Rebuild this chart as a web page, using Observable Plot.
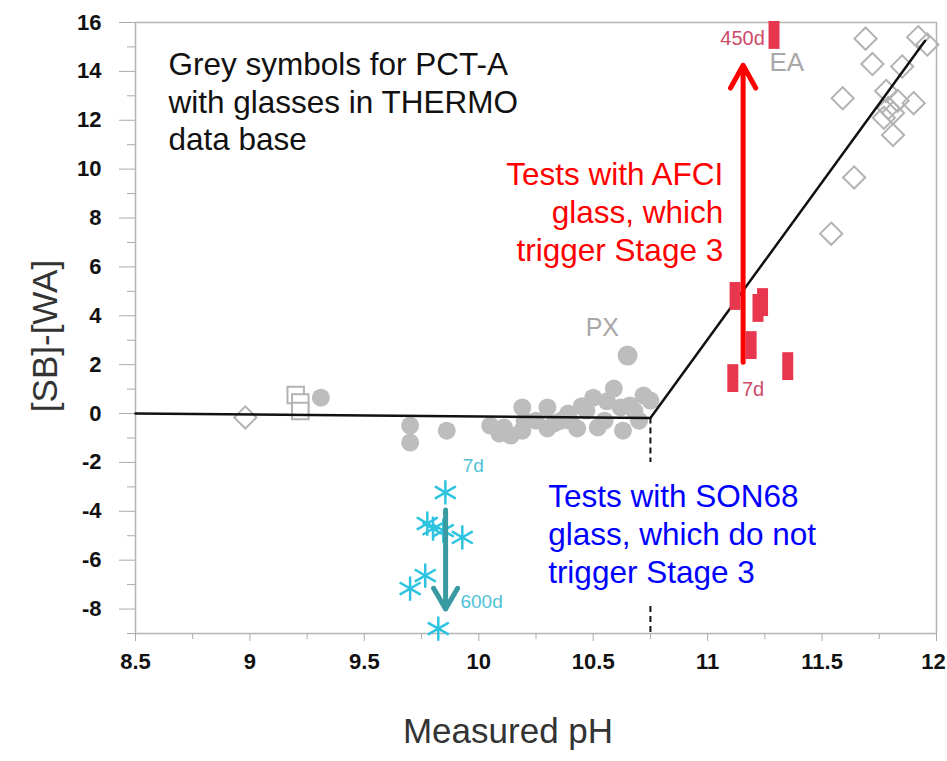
<!DOCTYPE html>
<html><head><meta charset="utf-8">
<script src="https://cdn.jsdelivr.net/npm/d3@7"></script>
<script src="https://cdn.jsdelivr.net/npm/@observablehq/plot@0.6"></script>
<style>
body{margin:0;background:#fff}
svg{font-family:"Liberation Sans",Arial,Helvetica,sans-serif}
</style>
</head><body><div id="chart"></div>
<script>
// ---- Data ----
// Model line (black)
const modelPH   = [8.5, 10.75, 11.95];
const modelSBWA = [0, -0.18, 15.25];
// Grey filled circles (PCT-A, THERMO database, PX)
const circPH   = [9.31, 9.70, 9.70, 9.86, 10.05, 10.09, 10.11, 10.14, 10.19, 10.19, 10.20, 10.25, 10.30, 10.30, 10.33, 10.36, 10.39, 10.40, 10.43, 10.45, 10.47, 10.50, 10.52, 10.55, 10.56, 10.59, 10.62, 10.63, 10.66, 10.68, 10.70, 10.72, 10.75];
const circSBWA = [0.65, -0.49, -1.19, -0.70, -0.49, -0.82, -0.57, -0.90, 0.25, -0.70, -0.30, -0.29, 0.25, -0.61, -0.40, -0.29, 0.0, -0.30, -0.61, 0.30, 0.12, 0.65, -0.57, -0.29, 0.50, 1.02, 0.25, -0.70, 0.33, 0.10, -0.29, 0.74, 0.53];
// Lone large PX circle
const pxBigPH = [10.65];
const pxBigSBWA = [2.37];
// Grey open diamonds (EA region and one low-pH)
const diaPH   = [8.98, 11.69, 11.92, 11.96, 11.72, 11.85, 11.59, 11.90, 11.78, 11.79, 11.81, 11.77, 11.83, 11.81, 11.64, 11.54];
const diaSBWA = [-0.16, 15.34, 15.40, 15.10, 14.30, 14.20, 12.90, 12.70, 13.20, 12.50, 12.30, 12.10, 12.80, 11.40, 9.66, 7.36];
// Grey open squares
const sqPH   = [9.20, 9.22, 9.22];
const sqSBWA = [0.76, 0.45, 0.10];
// AFCI glass tests (red bars)
const afciPH   = [11.12, 11.22, 11.24, 11.19, 11.11, 11.35, 11.29];
const afciSBWA = [4.79, 4.30, 4.54, 2.78, 1.43, 1.92, 15.47];
// SON68 glass tests (cyan asterisks)
const sonPH   = [9.854, 9.775, 9.80, 9.845, 9.928, 9.766, 9.70, 9.823];
const sonSBWA = [-3.23, -4.50, -4.71, -4.79, -5.07, -6.63, -7.16, -8.80];
// Ticks
const xMajor = [8.5, 9, 9.5, 10, 10.5, 11, 11.5, 12];
const xMinor = [8.75, 9.25, 9.75, 10.25, 10.75, 11.25, 11.75];
const yMajor = [-8, -6, -4, -2, 0, 2, 4, 6, 8, 10, 12, 14, 16];
const yMinor = [-9, -7, -5, -3, -1, 1, 3, 5, 7, 9, 11, 13, 15];
// Annotations
const noteGrey = "Grey symbols for PCT-A\nwith glasses in THERMO\ndata base";
const noteRed  = "Tests with AFCI\nglass, which\ntrigger Stage 3";
const noteBlue = "Tests with SON68\nglass, which do not\ntrigger Stage 3";
const stagePH = 10.75;

// ---- Build tables ----
const model = modelPH.map((x, i) => ({x, y: modelSBWA[i]}));
const circles = circPH.map((x, i) => ({x, y: circSBWA[i]}));
const pxBig = pxBigPH.map((x, i) => ({x, y: pxBigSBWA[i]}));
const diamonds = diaPH.map((x, i) => ({x, y: diaSBWA[i]}));
const squares = sqPH.map((x, i) => ({x, y: sqSBWA[i]}));
const afci = afciPH.map((x, i) => ({x, y: afciSBWA[i]}));
const son = sonPH.map((x, i) => ({x, y: sonSBWA[i]}));

const grey = "#bdbdbd";
const tickLabelStyle = {fill: "#111", fontSize: 22, fontWeight: "bold", frameAnchor: "bottom", dy: 35};
const chart = Plot.plot({
  width: 947, height: 761,
  marginLeft: 135, marginRight: 11, marginTop: 22, marginBottom: 128,
  x: {domain: [8.5, 12]},
  y: {domain: [-9, 16]},
  marks: [
    Plot.frame({stroke: "#b5b5b5", strokeWidth: 1.5}),
    // axes
    Plot.axisX({ticks: xMajor, tickSize: 8, tickFormat: () => "", stroke: "#aaa", label: null}),
    Plot.text(xMajor.slice(0, -1), {x: d => d, text: d => String(d), ...tickLabelStyle}),
    Plot.text(xMajor.slice(-1), {x: d => d, text: d => String(d), ...tickLabelStyle, dx: -3}),
    Plot.axisX({ticks: xMinor, tickSize: 6, tickFormat: () => "", stroke: "#aaa", label: null}),
    Plot.axisY({ticks: yMajor, tickSize: 16, tickPadding: 18, tickFormat: d => String(d), stroke: "#aaa", fill: "#111", fontSize: 22, fontWeight: "bold", label: null}),
    Plot.axisY({ticks: yMinor, tickSize: 8, tickFormat: () => "", stroke: "#aaa", label: null}),
    // grey PCT-A symbols
    Plot.dot(circles, {x: "x", y: "y", r: 9, fill: grey, stroke: "none"}),
    Plot.dot(pxBig, {x: "x", y: "y", r: 10, fill: grey, stroke: "none"}),
    Plot.dot(diamonds, {x: "x", y: "y", r: 10, symbol: "diamond2", stroke: "#b3b3b3", strokeWidth: 2, fill: "none"}),
    Plot.dot(squares, {x: "x", y: "y", r: 10.5, symbol: "square2", stroke: "#b3b3b3", strokeWidth: 2, fill: "white"}),
    // model line
    Plot.line(model, {x: "x", y: "y", stroke: "#111", strokeWidth: 2.5}),
    Plot.ruleX([stagePH], {y1: -0.18, y2: -2.0, stroke: "#111", strokeWidth: 2, strokeDasharray: "6,4"}),
    Plot.ruleX([stagePH], {y1: -7.9, y2: -9, stroke: "#111", strokeWidth: 2, strokeDasharray: "6,4"}),
    // AFCI red bars
    Plot.ruleX(afci, {x: "x", y1: d => d.y - 0.57, y2: d => d.y + 0.57, stroke: "#e8364e", strokeWidth: 11}),
    // SON68 asterisks
    Plot.dot(son, {x: "x", y: "y", r: 11.5, symbol: "asterisk", stroke: "#2ec4df", strokeWidth: 2.5}),
    // arrows
    Plot.arrow([{x: 11.155, y1: 2.1, y2: 14.25}], {x1: "x", x2: "x", y1: "y1", y2: "y2", stroke: "#ff0000", strokeWidth: 5, headLength: 7.8, headAngle: 58}),
    Plot.arrow([{x: 9.855, y1: -3.95, y2: -8.0}], {x1: "x", x2: "x", y1: "y1", y2: "y2", stroke: "#3a9aa2", strokeWidth: 5, headLength: 7.2, headAngle: 60}),
    // small labels
    Plot.text([{x: 9.93, y: -2.13, t: "7d"}, {x: 9.92, y: -7.69, t: "600d"}], {x: "x", y: "y", text: "t", textAnchor: "start", fill: "#4fc2d6", fontSize: 19}),
    Plot.text([{x: 11.25, y: 15.34, t: "450d"}], {x: "x", y: "y", text: "t", textAnchor: "end", fill: "#cf4a69", fontSize: 20}),
    Plot.text([{x: 11.15, y: 1.0, t: "7d"}], {x: "x", y: "y", text: "t", textAnchor: "start", fill: "#cf4a69", fontSize: 20}),
    Plot.text([{x: 10.54, y: 3.52, t: "PX"}], {x: "x", y: "y", text: "t", fill: "#a8a8a8", fontSize: 25}),
    Plot.text([{x: 11.27, y: 14.36, t: "EA"}], {x: "x", y: "y", text: "t", textAnchor: "start", fill: "#a8a8a8", fontSize: 26}),
    // notes
    Plot.text([noteGrey], {x: 8.644, y: 14.94, text: d => d, textAnchor: "start", lineAnchor: "top", lineHeight: 1.19, fontSize: 31.5, fill: "#111"}),
    Plot.text([noteRed], {x: 11.068, y: 10.45, text: d => d, textAnchor: "end", lineAnchor: "top", lineHeight: 1.21, fontSize: 31.5, fill: "#ff0000"}),
    Plot.text([noteBlue], {x: 10.303, y: -2.72, text: d => d, textAnchor: "start", lineAnchor: "top", lineHeight: 1.21, fontSize: 31.5, fill: "#0000ff"}),
    // axis titles
    Plot.text(["[SB]-[WA]"], {frameAnchor: "left", textAnchor: "middle", text: d => d, rotate: -90, dx: -90, dy: 8, fontSize: 35, fill: "#333"}),
    Plot.text(["Measured pH"], {frameAnchor: "bottom", textAnchor: "middle", text: d => d, dy: 109, dx: -28, fontSize: 35, fill: "#333"})
  ]
});
document.getElementById("chart").append(chart);
</script>
</body></html>
